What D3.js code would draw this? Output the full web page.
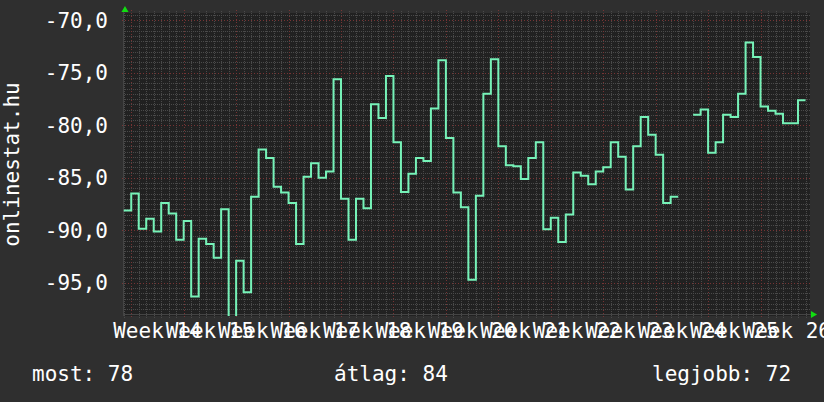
<!DOCTYPE html>
<html>
<head>
<meta charset="utf-8">
<script src="https://cdnjs.cloudflare.com/ajax/libs/d3/7.8.5/d3.min.js"></script>
<style>
  html, body { margin: 0; padding: 0; background: #2f2f2f; }
  svg text { font-family: "DejaVu Sans Mono", monospace; fill: #ffffff; }
</style>
</head>
<body>
<div id="chart"></div>
<script>
// daily values, day 0 = first day of Week 14 (day -1 is the partial day before)
var firstDay = -1
var values = [
  -88.1, -86.5, -89.85, -88.9, -90.1, -87.4, -88.4, -90.9, -89.1, -96.3,
  -90.8, -91.3, -92.6, -88.0, -98.5, -92.9, -95.9, -86.8, -82.3, -83.1,
  -85.85, -86.4, -87.4, -91.3, -84.9, -83.6, -85.0, -84.4, -75.6, -87.0,
  -90.9, -87.0, -87.9, -78.0, -79.3, -75.3, -81.6, -86.35, -84.6, -83.1,
  -83.4, -78.4, -73.8, -81.2, -86.4, -87.8, -94.7, -86.7, -77.0, -73.7,
  -82.0, -83.8, -83.9, -85.1, -83.1, -81.6, -89.9, -88.8, -91.1, -88.5,
  -84.5, -84.8, -85.6, -84.4, -84.0, -81.6, -83.0, -86.1, -82.0, -79.2,
  -80.9, -82.8, -87.4, -86.8, null, null, -79.0, -78.5, -82.6, -81.6,
  -79.0, -79.2, -77.0, -72.1, -73.5, -78.2, -78.6, -78.9, -79.8, -79.8,
  -77.6
]
var weeks = [14, 15, 16, 17, 18, 19, 20, 21, 22, 23, 24, 25, 26]
var yTicks = [-95, -90, -85, -80, -75, -70]
var legendItems = [["most", 78], ["átlag", 84], ["legjobb", 72]]
var yTitle = "onlinestat.hu"

var w = 824, h = 402
var pLeft = 123, pRight = 810, pTop = 13, pBottom = 316

var svg = d3.select("#chart").append("svg")
    .attr("width", w)
    .attr("height", h)

svg.append("rect").attr("width", w).attr("height", h).attr("fill", "#2f2f2f")

var x = d3.scaleLinear().domain([-1.1, 90.6]).range([pLeft, pRight])
var y = d3.scaleLinear().domain([-98.16, -69.3]).range([pBottom, pTop])

svg.append("rect")
    .attr("x", pLeft).attr("y", pTop)
    .attr("width", pRight - pLeft).attr("height", pBottom - pTop)
    .attr("fill", "#212121")

var grid = svg.append("g").attr("shape-rendering", "crispEdges")

// minor horizontal every 0.5
grid.selectAll("line.hmin")
    .data(d3.range(-98, -69.4, 0.5).filter(function (d) { return d % 5 !== 0 }))
    .enter().append("line")
    .attr("x1", pLeft).attr("x2", pRight)
    .attr("y1", function (d) { return Math.round(y(d)) + 0.5 })
    .attr("y2", function (d) { return Math.round(y(d)) + 0.5 })
    .attr("stroke", "#4a4a4a").attr("stroke-dasharray", "1,1")

// minor vertical every day
grid.selectAll("line.vmin")
    .data(d3.range(-1, 91).filter(function (d) { return d % 7 !== 0 }))
    .enter().append("line")
    .attr("x1", function (d) { return Math.round(x(d)) + 0.5 })
    .attr("x2", function (d) { return Math.round(x(d)) + 0.5 })
    .attr("y1", pTop - 2).attr("y2", pBottom + 2)
    .attr("stroke", "#4a4a4a").attr("stroke-dasharray", "1,1")

// major grid
grid.selectAll("line.hmaj")
    .data(yTicks)
    .enter().append("line")
    .attr("x1", pLeft - 1).attr("x2", pRight + 1)
    .attr("y1", function (d) { return Math.round(y(d)) + 0.5 })
    .attr("y2", function (d) { return Math.round(y(d)) + 0.5 })
    .attr("stroke", "#763434").attr("stroke-dasharray", "1,2")

grid.selectAll("line.vmaj")
    .data(weeks.map(function (d, i) { return i * 7 }))
    .enter().append("line")
    .attr("x1", function (d) { return Math.round(x(d)) + 0.5 })
    .attr("x2", function (d) { return Math.round(x(d)) + 0.5 })
    .attr("y1", pTop - 3).attr("y2", pBottom + 3)
    .attr("stroke", "#763434").attr("stroke-dasharray", "1,2")

// axis lines
grid.append("line")
    .attr("x1", pLeft).attr("x2", pRight + 2)
    .attr("y1", pBottom - 1.5).attr("y2", pBottom - 1.5)
    .attr("stroke", "#444")
grid.append("line")
    .attr("x1", pLeft + 0.5).attr("x2", pLeft + 0.5)
    .attr("y1", pTop - 2).attr("y2", pBottom)
    .attr("stroke", "#444")

// arrows
svg.append("path")
    .attr("d", d3.symbol().type(d3.symbolTriangle).size(22)())
    .attr("transform", "translate(" + (pLeft + 2) + "," + (pTop - 3) + ")")
    .attr("fill", "#11dd11")
svg.append("path")
    .attr("d", d3.symbol().type(d3.symbolTriangle).size(22)())
    .attr("transform", "translate(" + (pRight + 3) + "," + (pBottom - 1.5) + ") rotate(90)")
    .attr("fill", "#11dd11")

// data as steps: each day value spans [d, d+1]
var pts = []
values.forEach(function (v, i) {
    var d = firstDay + i
    if (v === null) { pts.push(null); return }
    pts.push([d, v])
    pts.push([d + 1, v])
})

svg.append("clipPath").attr("id", "plotClip")
    .append("rect")
    .attr("x", pLeft).attr("y", pTop)
    .attr("width", pRight - pLeft).attr("height", pBottom - pTop)

var line = d3.line()
    .defined(function (d) { return d !== null })
    .x(function (d) { return x(d[0]) })
    .y(function (d) { return y(d[1]) })

svg.append("path")
    .datum(pts)
    .attr("clip-path", "url(#plotClip)")
    .attr("d", line)
    .attr("fill", "none")
    .attr("stroke", "#76f2b8")
    .attr("stroke-width", 2)
    .attr("stroke-linejoin", "miter")

// y tick labels
svg.selectAll("text.ylab")
    .data(yTicks)
    .enter().append("text")
    .attr("x", 108)
    .attr("y", function (d) { return y(d) })
    .attr("dy", "0.36em")
    .attr("text-anchor", "end")
    .attr("font-size", 21)
    .text(function (d) { return d3.format(".1f")(d).replace(".", ",").replace("−", "-") })

// week labels, centred in each week
svg.selectAll("text.xlab")
    .data(weeks)
    .enter().append("text")
    .attr("x", function (d, i) { return x(i * 7 + 3.5) })
    .attr("y", 338)
    .attr("text-anchor", "middle")
    .attr("font-size", 21)
    .text(function (d) { return "Week " + d })

// vertical title
svg.append("text")
    .attr("transform", "translate(19," + ((pTop + pBottom) / 2) + ") rotate(-90)")
    .attr("text-anchor", "middle")
    .attr("font-size", 21)
    .text(yTitle)

// legend row
var legendX = [32, 334, 652]
svg.selectAll("text.leg")
    .data(legendItems)
    .enter().append("text")
    .attr("x", function (d, i) { return legendX[i] })
    .attr("y", 381)
    .attr("font-size", 21)
    .text(function (d) { return d[0] + ": " + d[1] })
</script>
</body>
</html>
